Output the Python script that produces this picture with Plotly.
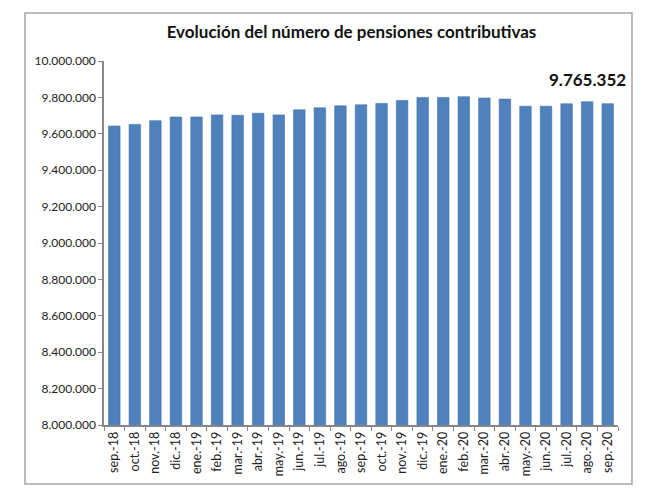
import plotly.graph_objs as go

meses = ["sep.-18", "oct.-18", "nov.-18", "dic.-18", "ene.-19", "feb.-19", "mar.-19",
         "abr.-19", "may.-19", "jun.-19", "jul.-19", "ago.-19", "sep.-19", "oct.-19",
         "nov.-19", "dic.-19", "ene.-20", "feb.-20", "mar.-20", "abr.-20", "may.-20",
         "jun.-20", "jul.-20", "ago.-20", "sep.-20"]
pensiones = [9642800, 9651700, 9672000, 9692500, 9692500, 9703800, 9701800,
             9712900, 9703800, 9731700, 9742800, 9753900, 9759400, 9766700,
             9783300, 9800000, 9800000, 9803700, 9796300, 9790700, 9751700,
             9751700, 9764800, 9776000, 9765352]
ticks_y = [8000000, 8200000, 8400000, 8600000, 8800000, 9000000,
           9200000, 9400000, 9600000, 9800000, 10000000]
etiquetas_y = ["8.000.000", "8.200.000", "8.400.000", "8.600.000", "8.800.000", "9.000.000",
               "9.200.000", "9.400.000", "9.600.000", "9.800.000", "10.000.000"]
ultimo = "9.765.352"

fuente = "Lato, Calibri, Arial, sans-serif"

fig = go.Figure([go.Bar(x=meses, y=pensiones, marker_color="#4F81BD",
                        marker_line_color="#4372AA", marker_line_width=0.6)])

# la página deja 8px de margen, así que la figura es algo más pequeña
fig.update_layout(
    width=642, height=488,
    margin=dict(l=96, r=32, t=53, b=71),
    paper_bgcolor="white", plot_bgcolor="white",
    bargap=0.44,
    showlegend=False,
    font=dict(family=fuente, size=12, color="#222222"),
    title=dict(text="<b>Evolución del número de pensiones contributivas</b>",
               x=0.535, xanchor="center", y=0.95, yanchor="middle",
               font=dict(family=fuente, size=17, color="#111111")),
)

fig.update_yaxes(range=[8000000, 10000000], tickvals=ticks_y, ticktext=etiquetas_y,
                 showgrid=False, zeroline=False, showline=True, linecolor="#868686",
                 linewidth=1.5, ticks="outside", ticklen=4, tickcolor="#868686",
                 tickfont=dict(size=12, color="#222222"))
fig.update_xaxes(showgrid=False, showline=True, linecolor="#868686", linewidth=1.5,
                 ticks="outside", ticklen=4, tickcolor="#868686", tickson="boundaries",
                 tickangle=-90, tickfont=dict(size=12.5, color="#222222"))

# marco exterior del gráfico
fig.add_shape(type="rect", xref="paper", yref="paper",
              x0=-0.1537, x1=1.0272, y0=-0.1621, y1=1.1319,
              line=dict(color="#A6A6A6", width=1.5))

fig.add_annotation(text="<b>" + ultimo + "</b>", xref="paper", yref="paper",
                   x=1.02, y=0.95, xanchor="right", yanchor="middle", showarrow=False,
                   font=dict(family=fuente, size=17, color="#111111"))

fig.write_html("out.html")
